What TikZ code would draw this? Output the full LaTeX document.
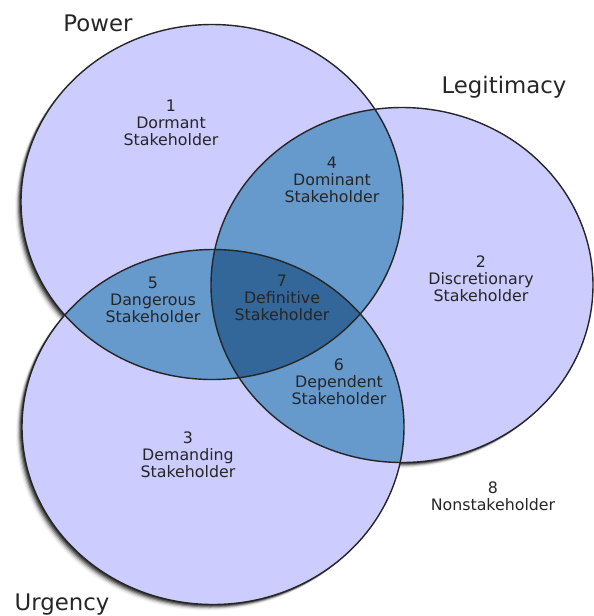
\documentclass[tikz,border=0pt]{standalone}
\usepackage{fontspec}
\setmainfont{DejaVu Sans}
\definecolor{lavender}{HTML}{CCCCFF}
\definecolor{midblue}{HTML}{6699CC}
\definecolor{deepblue}{HTML}{336699}
\definecolor{rim}{HTML}{262626}
\begin{document}
\begin{tikzpicture}[x=0.02cm, y=-0.02cm,
		title/.style={anchor=base, font=\fontsize{13}{15}\selectfont, text=black!85},
		region/.style={align=center, font=\fontsize{9}{9.7}\selectfont, text=black!85, inner sep=0pt}]
				\useasboundingbox (0,0) rectangle (594,616);
				
				%circle centres
				\coordinate (power) at (212,202);
				\coordinate (legit) at (402,285);
				\coordinate (urgency) at (213,427);
				
				%shadows
				\foreach \d/\o in {1/0.4, 2/0.35, 3/0.25, 4/0.15, 5/0.08, 6/0.04}{
					\fill[black, opacity=\o] ([shift={(-\d,\d)}]power) ellipse (191 and 177.5);
					\fill[black, opacity=\o] ([shift={(-\d,\d)}]legit) ellipse (191 and 177.5);
					\fill[black, opacity=\o] ([shift={(-\d,\d)}]urgency) ellipse (191 and 177.5);
				}
				
				%fills
				\fill[lavender] (power) ellipse (191 and 177.5);
				\fill[lavender] (legit) ellipse (191 and 177.5);
				\fill[lavender] (urgency) ellipse (191 and 177.5);
				\begin{scope}
					\clip (power) ellipse (191 and 177.5);
					\fill[midblue] (legit) ellipse (191 and 177.5);
					\fill[midblue] (urgency) ellipse (191 and 177.5);
				\end{scope}
				\begin{scope}
					\clip (legit) ellipse (191 and 177.5);
					\fill[midblue] (urgency) ellipse (191 and 177.5);
				\end{scope}
				\begin{scope}
					\clip (power) ellipse (191 and 177.5);
					\clip (legit) ellipse (191 and 177.5);
					\fill[deepblue] (urgency) ellipse (191 and 177.5);
				\end{scope}
				
				%outlines
				\draw[rim, line width=0.8pt] (power) ellipse (191 and 177.5);
				\draw[rim, line width=0.8pt] (legit) ellipse (191 and 177.5);
				\draw[rim, line width=0.8pt] (urgency) ellipse (191 and 177.5);
				
				%titles
				\node[title] (tpower) at (98,31){Power};
				\node[title] (tlegit) at (504,93){Legitimacy};
				\node[title] (turgency) at (62,610){Urgency};
				
				%regions
				\node[region] (dormant) at (171,123){1\\Dormant\\Stakeholder};
				\node[region] (discretionary) at (481,279){2\\Discretionary\\Stakeholder};
				\node[region] (demanding) at (188,455){3\\Demanding\\Stakeholder};
				\node[region] (dominant) at (332,180){4\\Dominant\\Stakeholder};
				\node[region] (dangerous) at (153,300){5\\Dangerous\\Stakeholder};
				\node[region] (dependent) at (339,382){6\\Dependent\\Stakeholder};
				\node[region] (definitive) at (282,298){7\\Definitive\\Stakeholder};
				\node[region] (nonstake) at (493,496){8\\Nonstakeholder};
			\end{tikzpicture}
\end{document}
